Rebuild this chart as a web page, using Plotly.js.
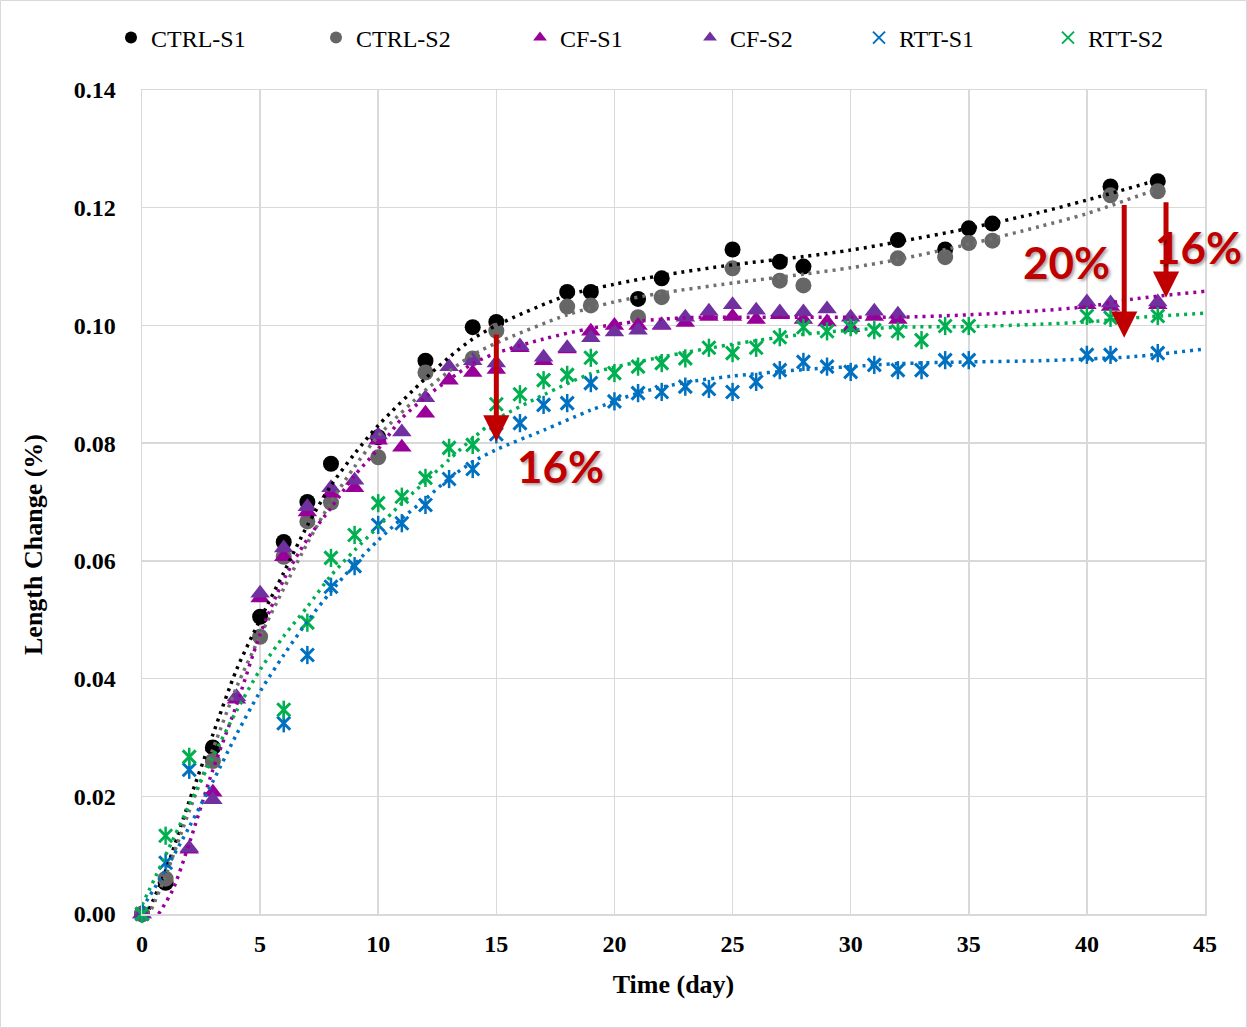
<!DOCTYPE html>
<html>
<head>
<meta charset="utf-8">
<script src="https://cdn.plot.ly/plotly-3.0.1.min.js"></script>
<style>html,body{margin:0;padding:0;background:#fff;}#chart{width:1247px;height:1028px;}</style>
</head>
<body>
<div id="chart"></div>
<script>
const daysCtrl = [0,1,3,5,6,7,8,10,12,14,15,18,19,21,22,25,27,28,32,34,35,36,41,43];
const ctrlS1 = [0,0.0053,0.0283,0.0505,0.0632,0.0700,0.0765,0.0810,0.0940,0.0997,0.1006,0.1057,0.1057,0.1045,0.1080,0.1129,0.1108,0.1100,0.1145,0.1129,0.1165,0.1173,0.1236,0.1245];
const ctrlS2 = [0,0.0060,0.0260,0.0471,0.0607,0.0667,0.0699,0.0776,0.0920,0.0944,0.0991,0.1032,0.1034,0.1014,0.1048,0.1097,0.1076,0.1068,0.1114,0.1116,0.1140,0.1144,0.1221,0.1228];

const daysCf = [0,2,3,4,5,6,7,8,9,10,11,12,13,14,15,16,17,18,19,20,21,22,23,24,25,26,27,28,29,30,31,32,40,41,43];
const cfS1 = [0,0.0110,0.0207,0.0365,0.0537,0.0607,0.0683,0.0715,0.0724,0.0805,0.0793,0.0851,0.0907,0.0920,0.0925,0.0962,0.0940,0.0960,0.0990,0.1000,0.1000,0.1000,0.1005,0.1015,0.1015,0.1010,0.1018,0.1010,0.1006,0.0996,0.1015,0.1010,0.1035,0.1032,0.1035];
const cfS2 = [0,0.0112,0.0194,0.0369,0.0545,0.0622,0.0692,0.0724,0.0737,0.0814,0.0819,0.0877,0.0930,0.0940,0.0936,0.0965,0.0946,0.0962,0.0979,0.0989,0.0992,0.1001,0.1014,0.1024,0.1035,0.1026,0.1023,0.1023,0.1028,0.1014,0.1024,0.1019,0.1040,0.1038,0.1040];

const daysRtt = [0,1,2,6,7,8,9,10,11,12,13,14,15,16,17,18,19,20,21,22,23,24,25,26,27,28,29,30,31,32,33,34,35,40,41,43];
const rttS1 = [0,0.0087,0.0245,0.0324,0.0440,0.0556,0.0591,0.0661,0.0664,0.0695,0.0739,0.0756,0.0815,0.0834,0.0865,0.0868,0.0902,0.0871,0.0885,0.0887,0.0896,0.0892,0.0887,0.0904,0.0924,0.0938,0.0930,0.0921,0.0933,0.0924,0.0924,0.0941,0.0941,0.0950,0.0950,0.0953];
const rttS2 = [0,0.0133,0.0267,0.0347,0.0495,0.0605,0.0644,0.0698,0.0709,0.0741,0.0792,0.0797,0.0866,0.0883,0.0907,0.0916,0.0945,0.0919,0.0930,0.0936,0.0944,0.0962,0.0953,0.0962,0.0980,0.0997,0.0990,0.0997,0.0992,0.0990,0.0975,0.0999,0.0999,0.1016,0.1013,0.1016];

// ---- dotted trendlines ----
const trendDaysCtrl1 = [0.3,1,2,3,4,5,6,7,8,9,10,12,13,14,15,18,20,22,25,28,30,32,35,38,40,43];
const trendCtrl1     = [0.0008,0.0073,0.0192,0.0305,0.0415,0.0500,0.0580,0.0660,0.0728,0.0782,0.0830,0.0910,0.0946,0.0977,0.1000,0.1051,0.1070,0.1085,0.1103,0.1117,0.1128,0.1142,0.1165,0.1192,0.1213,0.1247];
const trendDaysCtrl2 = [0.4,1,2,3,4,5,6,7,8,9,10,12,13,14,15,18,20,22,25,28,30,32,35,38,40,43];
const trendCtrl2     = [0.0008,0.0065,0.0175,0.0280,0.0385,0.0472,0.0553,0.0630,0.0700,0.0760,0.0812,0.0890,0.0922,0.0950,0.0970,0.1018,0.1040,0.1055,0.1072,0.1087,0.1098,0.1112,0.1138,0.1168,0.1190,0.1232];
const trendDaysCf1   = [0.7,1.3,2,3,4,5,6,7,8,9,10,11,12,13,14,15,17,19,21,23,25,28,30,32,35,38,40,42,45];
const trendCf1       = [0.0000,0.0041,0.0120,0.0245,0.0355,0.0475,0.0568,0.0637,0.0690,0.0745,0.0790,0.0842,0.0878,0.0908,0.0935,0.0953,0.0977,0.0995,0.1007,0.1013,0.1014,0.1014,0.1014,0.1014,0.1018,0.1025,0.1032,0.1045,0.1058];
const trendDaysRtt1  = [0,1,2,3,4,5,6,7,8,9,10,11,12,13,14,15,17,19,21,23,25,28,30,32,35,38,40,42,45];
const trendRtt1      = [0.0010,0.0075,0.0148,0.0225,0.0305,0.0378,0.0440,0.0497,0.0548,0.0594,0.0635,0.0672,0.0705,0.0740,0.0768,0.0789,0.0822,0.0856,0.0885,0.0903,0.0914,0.0925,0.0930,0.0935,0.0938,0.0940,0.0943,0.0947,0.0960];
const trendDaysRtt2  = [0,1,2,3,4,5,6,7,8,9,10,11,12,13,14,15,17,19,21,23,25,28,30,32,35,38,40,42,45];
const trendRtt2      = [0.0015,0.0100,0.0185,0.0267,0.0345,0.0415,0.0472,0.0522,0.0575,0.0618,0.0658,0.0698,0.0735,0.0772,0.0808,0.0840,0.0882,0.0918,0.0938,0.0954,0.0968,0.0985,0.0992,0.0997,0.0998,0.1002,0.1006,0.1013,0.1021];

const seriesNames = ['CTRL-S1','CTRL-S2','CF-S1','CF-S2','RTT-S1','RTT-S2'];
const xTickVals = [0,5,10,15,20,25,30,35,40,45];
const yTickVals = [0,0.02,0.04,0.06,0.08,0.10,0.12,0.14];
const annoTexts = ['16%','20%','16%'];

function trend(xs, ys, color){
  return {x:xs,y:ys,type:'scatter',mode:'lines',showlegend:false,hoverinfo:'skip',
    line:{color:color,width:3.5,dash:'3px,5px',shape:'spline',smoothing:0.8}};
}
const legendKeys = ['legend','legend2','legend3','legend4','legend5','legend6'];
function markers(xs, ys, i, marker){
  return {x:xs,y:ys,type:'scatter',mode:'markers',name:seriesNames[i],legend:legendKeys[i],
    cliponaxis:false,marker:marker};
}

const cBlack='#000000', cGrey='#666666', cMag='#990099', cPur='#7030A0', cBlue='#0070C0', cGreen='#00B050';

const traces = [
  markers(daysCtrl, ctrlS1, 0, {symbol:'circle',size:16,color:cBlack}),
  markers(daysCtrl, ctrlS2, 1, {symbol:'circle',size:16,color:cGrey}),
  markers(daysCf, cfS1, 2, {symbol:'triangle-up',size:17,color:cMag}),
  markers(daysCf, cfS2, 3, {symbol:'triangle-up',size:17,color:cPur}),
  markers(daysRtt, rttS1, 4, {symbol:'x-thin-open',size:13,color:cBlue,line:{color:cBlue,width:3}}),
  {x:daysRtt,y:rttS1,type:'scatter',mode:'markers',showlegend:false,cliponaxis:false,hoverinfo:'skip',
    marker:{symbol:'line-ns-open',size:13,color:cBlue,line:{color:cBlue,width:2.5}}},
  markers(daysRtt, rttS2, 5, {symbol:'x-thin-open',size:13,color:cGreen,line:{color:cGreen,width:3}}),
  {x:daysRtt,y:rttS2,type:'scatter',mode:'markers',showlegend:false,cliponaxis:false,hoverinfo:'skip',
    marker:{symbol:'line-ns-open',size:13,color:cGreen,line:{color:cGreen,width:2.5}}},
  trend(trendDaysCtrl1, trendCtrl1, cBlack),
  trend(trendDaysCtrl2, trendCtrl2, '#707070'),
  trend(trendDaysCf1, trendCf1, cMag),
  trend(trendDaysRtt2, trendRtt2, cGreen),
  trend(trendDaysRtt1, trendRtt1, cBlue)
];

const W=1247,H=1028,L=142,R=42,T=90,B=114;
const pw=W-L-R, ph=H-T-B;
const px2x = p=>(p-L)/pw;
const py2y = p=>(T+ph-p)/ph;
const legendLefts=[111,316,520,690,859,1048];
const legendFont={family:'"Liberation Serif","Times New Roman",serif',size:24,color:'#000'};
const pctFont={family:'Lato, "Open Sans", sans-serif',size:44,weight:'bold',color:'#C00000',shadow:'2px 2px 3px rgba(0,0,0,0.35)'};
const layout = {
  width:W,height:H,margin:{l:L,r:R,t:T,b:B},
  paper_bgcolor:'#ffffff',plot_bgcolor:'#ffffff',
  font:{family:'"Liberation Serif","Times New Roman",serif',color:'#000'},
  xaxis:{range:[0,45],tickvals:xTickVals,ticktext:xTickVals.map(String),
    showgrid:true,gridcolor:'#D9D9D9',gridwidth:1.5,zeroline:false,
    showline:true,linecolor:'#D9D9D9',linewidth:1.5,mirror:true,
    ticks:'outside',ticklen:8,tickcolor:'rgba(0,0,0,0)',
    tickfont:{family:'"Liberation Serif",serif',size:24,weight:'bold',color:'#000'},
    title:{text:'<b>Time (day)</b>',standoff:18,font:{family:'"Liberation Serif",serif',size:26,color:'#000'}},
    automargin:false},
  yaxis:{range:[0,0.14],tickvals:yTickVals,ticktext:yTickVals.map(v=>v.toFixed(2)),
    showgrid:true,gridcolor:'#D9D9D9',gridwidth:1.5,zeroline:false,
    showline:true,linecolor:'#D9D9D9',linewidth:1.5,mirror:true,
    ticks:'outside',ticklen:20,tickcolor:'rgba(0,0,0,0)',
    tickfont:{family:'"Liberation Serif",serif',size:24,weight:'bold',color:'#000'},
    automargin:false},
  annotations:[
    {x:px2x(33),y:py2y(545),xref:'paper',yref:'paper',text:'<b>Length Change (%)</b>',textangle:-90,showarrow:false,
      xanchor:'center',yanchor:'middle',font:{family:'"Liberation Serif",serif',size:26,color:'#000'}},
    {x:15,y:0.0803,ax:15,ay:0.0987,xref:'x',yref:'y',axref:'x',ayref:'y',text:'',showarrow:true,
      arrowhead:2,arrowsize:1.05,arrowwidth:5,arrowcolor:'#C00000'},
    {x:41.58,y:0.0979,ax:41.58,ay:0.1207,xref:'x',yref:'y',axref:'x',ayref:'y',text:'',showarrow:true,
      arrowhead:2,arrowsize:1.05,arrowwidth:5,arrowcolor:'#C00000'},
    {x:43.35,y:0.1047,ax:43.35,ay:0.1212,xref:'x',yref:'y',axref:'x',ayref:'y',text:'',showarrow:true,
      arrowhead:2,arrowsize:1.05,arrowwidth:5,arrowcolor:'#C00000'},
    {x:17.7,y:0.0762,xref:'x',yref:'y',text:annoTexts[0],showarrow:false,xanchor:'center',yanchor:'middle',font:pctFont},
    {x:39.15,y:0.1107,xref:'x',yref:'y',text:annoTexts[1],showarrow:false,xanchor:'center',yanchor:'middle',font:pctFont},
    {x:px2x(1244),y:py2y(247),xref:'paper',yref:'paper',text:annoTexts[2],showarrow:false,xanchor:'right',yanchor:'middle',font:pctFont}
  ],
  shapes:[
    {type:'rect',xref:'paper',yref:'paper',x0:px2x(0.5),x1:px2x(W-0.5),y0:py2y(H-0.5),y1:py2y(0.5),
      line:{color:'#D9D9D9',width:1},fillcolor:'rgba(0,0,0,0)',layer:'below'}
  ]
};
legendKeys.forEach((k,i)=>{
  layout[k]={x:px2x(legendLefts[i]),xanchor:'left',y:py2y(38),yanchor:'middle',
    orientation:'h',bgcolor:'rgba(0,0,0,0)',borderwidth:0,font:legendFont,itemsizing:'constant'};
});

Plotly.newPlot('chart', traces, layout, {displayModeBar:false,staticPlot:true});
</script>
</body>
</html>
